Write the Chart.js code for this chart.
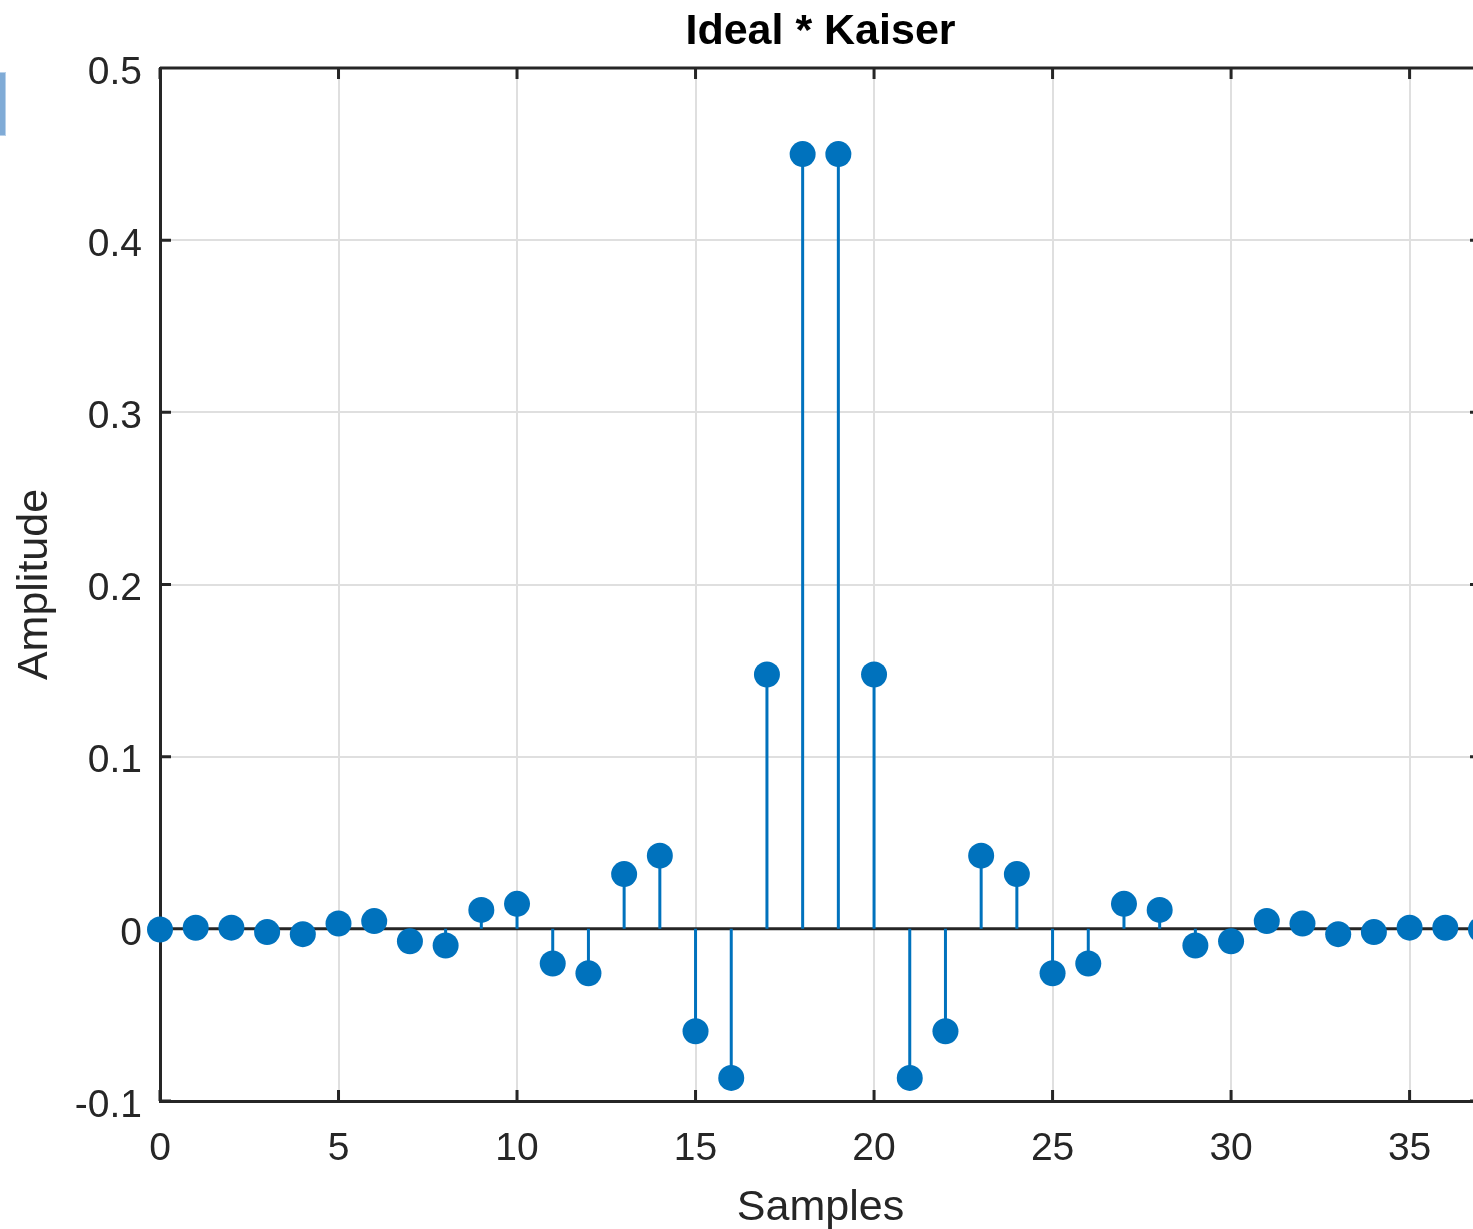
<!DOCTYPE html>
<html>
<head>
<meta charset="utf-8">
<title>Ideal * Kaiser</title>
<script src="https://cdn.jsdelivr.net/npm/chart.js@4.4.1/dist/chart.umd.min.js"></script>
<style>
  html, body { margin: 0; padding: 0; background: #fff; overflow: hidden; width: 1473px; height: 1229px; }
  #wrap { position: relative; width: 1500px; height: 1229px; }
  #tab { position: absolute; left: 0; top: 72px; width: 5px; height: 62px; background: #80abd6; border: 1px solid #b8d1ea; border-left: none; }
</style>
</head>
<body>
<div id="wrap">
  <canvas id="stemChart" width="1500" height="1229"></canvas>
  <div id="tab"></div>
</div>
<script>
// filter taps (n = 0..37)
const samples = [0, 1, 2, 3, 4, 5, 6, 7, 8, 9, 10, 11, 12, 13, 14, 15, 16, 17, 18,
  19, 20, 21, 22, 23, 24, 25, 26, 27, 28, 29, 30, 31, 32, 33, 34, 35, 36, 37];
const amplitude = [-0.0004, 0.0006, 0.0007, -0.0019, -0.0031, 0.0031, 0.0045, -0.0072, -0.0097, 0.0110,
  0.0145, -0.0201, -0.0258, 0.0318, 0.0425, -0.0595, -0.0866, 0.1477, 0.4500,
  0.4500, 0.1477, -0.0866, -0.0595, 0.0425, 0.0318, -0.0258, -0.0201, 0.0145, 0.0110,
  -0.0097, -0.0072, 0.0045, 0.0031, -0.0031, -0.0019, 0.0007, 0.0006, -0.0004];

const chartTitle = 'Ideal * Kaiser';
const xLabel = 'Samples';
const yLabel = 'Amplitude';

const stemBlue = '#0072BD';
const axisColor = '#262626';
const gridColor = '#dfdfdf';
const fontFamily = '"Liberation Sans", Arial, Helvetica, sans-serif';

const points = samples.map((n, i) => ({ x: n, y: amplitude[i] }));

// box, inward ticks, baseline, stems and title (matlab stem look)
const stemPlot = {
  id: 'stemPlot',
  beforeDatasetsDraw(chart) {
    const { ctx, chartArea: a, scales: { x, y } } = chart;
    const y0 = y.getPixelForValue(0);
    ctx.save();
    ctx.strokeStyle = axisColor;
    ctx.lineWidth = 3;
    ctx.beginPath();
    ctx.moveTo(a.left, a.top); ctx.lineTo(a.right, a.top);
    ctx.moveTo(a.right, a.top); ctx.lineTo(a.right, a.bottom);
    x.ticks.forEach(t => {
      const px = x.getPixelForValue(t.value);
      ctx.moveTo(px, a.bottom); ctx.lineTo(px, a.bottom - 11);
      ctx.moveTo(px, a.top); ctx.lineTo(px, a.top + 11);
    });
    y.ticks.forEach(t => {
      const py = y.getPixelForValue(t.value);
      ctx.moveTo(a.left, py); ctx.lineTo(a.left + 11, py);
      ctx.moveTo(a.right, py); ctx.lineTo(a.right - 11, py);
    });
    ctx.stroke();

    ctx.beginPath();
    ctx.moveTo(a.left, y0); ctx.lineTo(a.right, y0);
    ctx.stroke();

    ctx.strokeStyle = stemBlue;
    ctx.lineWidth = 3;
    ctx.beginPath();
    chart.getDatasetMeta(0).data.forEach(pt => {
      ctx.moveTo(pt.x, y0);
      ctx.lineTo(pt.x, pt.y);
    });
    ctx.stroke();
    ctx.restore();
  },
  afterDraw(chart) {
    const { ctx, chartArea: a } = chart;
    ctx.save();
    ctx.fillStyle = '#000';
    ctx.font = 'bold 43px ' + fontFamily;
    ctx.textAlign = 'center';
    ctx.textBaseline = 'middle';
    ctx.fillText(chartTitle, (a.left + a.right) / 2, 32);
    ctx.restore();
  }
};

new Chart(document.getElementById('stemChart'), {
  type: 'scatter',
  data: {
    datasets: [{
      label: 'h',
      data: points,
      backgroundColor: stemBlue,
      borderWidth: 0,
      pointRadius: 13,
      pointHoverRadius: 13,
      clip: false
    }]
  },
  plugins: [stemPlot],
  options: {
    responsive: false,
    animation: false,
    layout: { padding: { top: 68, right: 19, left: 0, bottom: 0 } },
    plugins: {
      legend: { display: false },
      title: { display: false },
      tooltip: { enabled: false }
    },
    scales: {
      x: {
        type: 'linear',
        min: 0,
        max: 37,
        ticks: {
          stepSize: 5,
          includeBounds: false,
          padding: 25,
          maxRotation: 0,
          color: axisColor,
          font: { family: fontFamily, size: 39 }
        },
        grid: { color: gridColor, lineWidth: 2, drawTicks: false },
        border: { color: axisColor, width: 3 },
        title: {
          display: true,
          text: xLabel,
          color: axisColor,
          font: { family: fontFamily, size: 43, lineHeight: 1 },
          padding: { top: 0, bottom: -1 }
        },
        afterFit(scale) { scale.height = 128; }
      },
      y: {
        min: -0.1,
        max: 0.5,
        ticks: {
          stepSize: 0.1,
          padding: 18,
          labelOffset: 5,
          color: axisColor,
          font: { family: fontFamily, size: 39 },
          callback: v => String(Number(v.toFixed(1)))
        },
        grid: { color: gridColor, lineWidth: 2, drawTicks: false },
        border: { color: axisColor, width: 3 },
        title: {
          display: true,
          text: yLabel,
          color: axisColor,
          font: { family: fontFamily, size: 43, lineHeight: 1 },
          padding: { top: 14, bottom: 0 }
        },
        afterFit(scale) { scale.width = 160; }
      }
    }
  }
});
</script>
</body>
</html>
